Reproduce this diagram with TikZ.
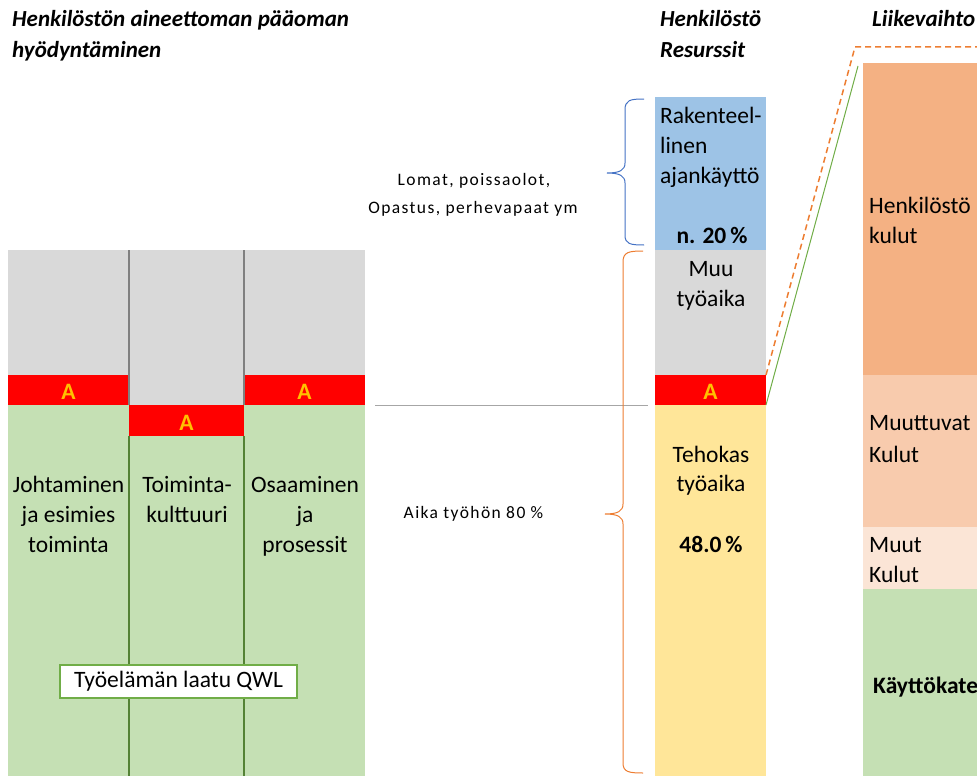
\documentclass[tikz,border=0pt]{standalone}
\usepackage{fontspec}
\setmainfont{Carlito}
\newfontfamily\spacedfont[LetterSpace=8]{Carlito}
\definecolor{cgray}{HTML}{D9D9D9}
\definecolor{cred}{HTML}{FF0000}
\definecolor{cgold}{HTML}{FFC000}
\definecolor{cgreen}{HTML}{C5E0B4}
\definecolor{cblue}{HTML}{9DC3E6}
\definecolor{cyellow}{HTML}{FFE699}
\definecolor{corange1}{HTML}{F4B183}
\definecolor{corange2}{HTML}{F8CBAD}
\definecolor{corange3}{HTML}{FBE5D6}
\definecolor{lblue}{HTML}{4472C4}
\definecolor{lorange}{HTML}{ED7D31}
\definecolor{lgreen}{HTML}{70AD47}
\definecolor{dgreen}{HTML}{548235}
\definecolor{lgray}{HTML}{808080}
\definecolor{hgray}{HTML}{A6A6A6}
\begin{document}
\begin{tikzpicture}[x=1pt,y=-1pt,
  blk/.style={inner sep=0pt, outer sep=0pt, anchor=north west, draw=none},
  lbl/.style={inner sep=0pt, text=black, font=\fontsize{23.5}{29}\selectfont},
  lblb/.style={lbl, font=\fontsize{23.5}{29}\selectfont\bfseries},
  ttl/.style={inner sep=0pt, anchor=base west, font=\fontsize{23}{27}\selectfont\bfseries\itshape},
  small/.style={inner sep=0pt, anchor=base, font=\fontsize{17.5}{20}\spacedfont},
  amark/.style={inner sep=0pt, text=cgold, font=\fontsize{23.5}{24}\selectfont\bfseries, yshift=-2pt},
  bracel/.style={line width=1pt}
]
\useasboundingbox (0,0) rectangle (977,776);

% ---------- left block ----------
\node[blk, fill=cgray, minimum width=121pt, minimum height=125pt] (g1) at (8,250) {};
\node[blk, fill=cgray, minimum width=115pt, minimum height=155pt] (g2) at (129,250) {};
\node[blk, fill=cgray, minimum width=121pt, minimum height=125pt] (g3) at (244,250) {};
\node[blk, fill=cred, minimum width=121pt, minimum height=30pt] (r1) at (8,375) {};
\node[blk, fill=cred, minimum width=115pt, minimum height=31pt] (r2) at (129,405) {};
\node[blk, fill=cred, minimum width=121pt, minimum height=30pt] (r3) at (244,375) {};
\node[blk, fill=cgreen, minimum width=121pt, minimum height=371pt] (gr1) at (8,405) {};
\node[blk, fill=cgreen, minimum width=115pt, minimum height=340pt] (gr2) at (129,436) {};
\node[blk, fill=cgreen, minimum width=121pt, minimum height=371pt] (gr3) at (244,405) {};
\node[amark] (a1) at (r1.center) {A};
\node[amark] (a2) at (r2.center) {A};
\node[amark] (a3) at (r3.center) {A};

\draw[lgray, line width=2pt] (g2.north west) -- (g2.south west);
\draw[lgray, line width=2pt] (g2.north east) -- (g2.south east);
\draw[dgreen, line width=1.5pt] (gr2.north west) -- (gr2.south west);
\draw[dgreen, line width=1.5pt] (gr2.north east) -- (gr2.south east);

\node[lbl, anchor=base] (j1) at (68.5,492) {Johtaminen};
\node[lbl, anchor=base] (j2) at (68.5,522) {ja esimies};
\node[lbl, anchor=base] (j3) at (68.5,552) {toiminta};
\node[lbl, anchor=base] (k1) at (187,492) {Toiminta-};
\node[lbl, anchor=base] (k2) at (187,522) {kulttuuri};
\node[lbl, anchor=base] (o1) at (305,492) {Osaaminen};
\node[lbl, anchor=base] (o2) at (305,522) {ja};
\node[lbl, anchor=base] (o3) at (305,552) {prosessit};

\node[draw=lgreen, line width=1.5pt, fill=white, inner sep=0pt, minimum width=237pt, minimum height=33pt,
      font=\fontsize{23.5}{29}\selectfont] (qwl) at (178.5,681.5) {Työelämän laatu QWL};

% ---------- titles ----------
\node[ttl] (t1) at (12,27) {Henkilöstön aineettoman pääoman};
\node[ttl] (t2) at (12,58) {hyödyntäminen};
\node[ttl] (h1) at (660,27) {Henkilöstö};
\node[ttl] (h2) at (660,58) {Resurssit};
\node[ttl] (h3) at (872,27) {Liikevaihto};

% ---------- middle column ----------
\node[blk, fill=cblue, minimum width=111pt, minimum height=153pt] (cb) at (655,97) {};
\node[blk, fill=cgray, minimum width=111pt, minimum height=125pt] (cg) at (655,250) {};
\node[blk, fill=cred, minimum width=111pt, minimum height=30pt] (cr) at (655,375) {};
\node[blk, fill=cyellow, minimum width=111pt, minimum height=371pt] (cy) at (655,405) {};
\node[amark] (a4) at (cr.center) {A};

\node[lbl, anchor=base west] (m1) at (660,123) {Rakenteel-};
\node[lbl, anchor=base west] (m2) at (660,153) {linen};
\node[lbl, anchor=base west] (m3) at (660,183) {ajankäyttö};
\node[lblb, anchor=base] (m4) at (712,243) {n. 20\,\%};
\node[lbl, anchor=base] (m5) at (711,276) {Muu};
\node[lbl, anchor=base] (m6) at (711,306) {työaika};
\node[lbl, anchor=base] (m7) at (711,462) {Tehokas};
\node[lbl, anchor=base] (m8) at (711,491) {työaika};
\node[lblb, anchor=base] (m9) at (711,552) {48.0\,\%};

% ---------- right column ----------
\node[blk, fill=corange1, minimum width=114pt, minimum height=312pt] (ro1) at (863,63) {};
\node[blk, fill=corange2, minimum width=114pt, minimum height=152pt] (ro2) at (863,375) {};
\node[blk, fill=corange3, minimum width=114pt, minimum height=62pt] (ro3) at (863,527) {};
\node[blk, fill=cgreen, minimum width=114pt, minimum height=187pt] (ro4) at (863,589) {};

\node[lbl, anchor=base west] (n1) at (869,213) {Henkilöstö};
\node[lbl, anchor=base west] (n2) at (869,243) {kulut};
\node[lbl, anchor=base west] (n3) at (869,430) {Muuttuvat};
\node[lbl, anchor=base west] (n4) at (869,462) {Kulut};
\node[lbl, anchor=base west] (n5) at (869,552) {Muut};
\node[lbl, anchor=base west] (n6) at (869,582) {Kulut};
\node[lblb, anchor=base west] (n7) at (873,693) {Käyttökate};

% ---------- small notes ----------
\node[small] (s1) at (474,185) {Lomat, poissaolot,};
\node[small] (s2) at (473,213) {Opastus, perhevapaat ym};
\node[small] (s3) at (473.5,518) {Aika työhön 80~\%};

% ---------- connectors ----------
\coordinate (hl1) at (375,405);
\coordinate (hl2) at (648,405);
\draw[hgray, line width=1pt] (hl1) -- (hl2);

\coordinate (dc) at (855,47);
\coordinate (de) at (977,47);
\draw[lorange, line width=1.5pt, dash pattern=on 6pt off 4pt] (cr.north east) -- (dc) -- (de);
\coordinate (gc) at (858,66);
\draw[lgreen, line width=1pt] (cr.south east) -- (gc);

% braces
\coordinate (bb1) at (644,99);
\coordinate (bbt) at (607,173);
\coordinate (bb2) at (644,245);
\draw[lblue, bracel] (bb1) .. controls (630,99) and (625,100) .. (625,110) -- (625,163)
   .. controls (625,170) and (620,173) .. (bbt) .. controls (620,173) and (625,176) .. (625,183)
   -- (625,235) .. controls (625,244) and (630,245) .. (bb2);
\coordinate (ob1) at (643,251);
\coordinate (obt) at (605,514);
\coordinate (ob2) at (643,773);
\draw[lorange, bracel] (ob1) .. controls (629,251) and (623,252) .. (623,262) -- (623,504)
   .. controls (623,511) and (618,514) .. (obt) .. controls (618,514) and (623,517) .. (623,524)
   -- (623,763) .. controls (623,772) and (629,773) .. (ob2);
\end{tikzpicture}
\end{document}
